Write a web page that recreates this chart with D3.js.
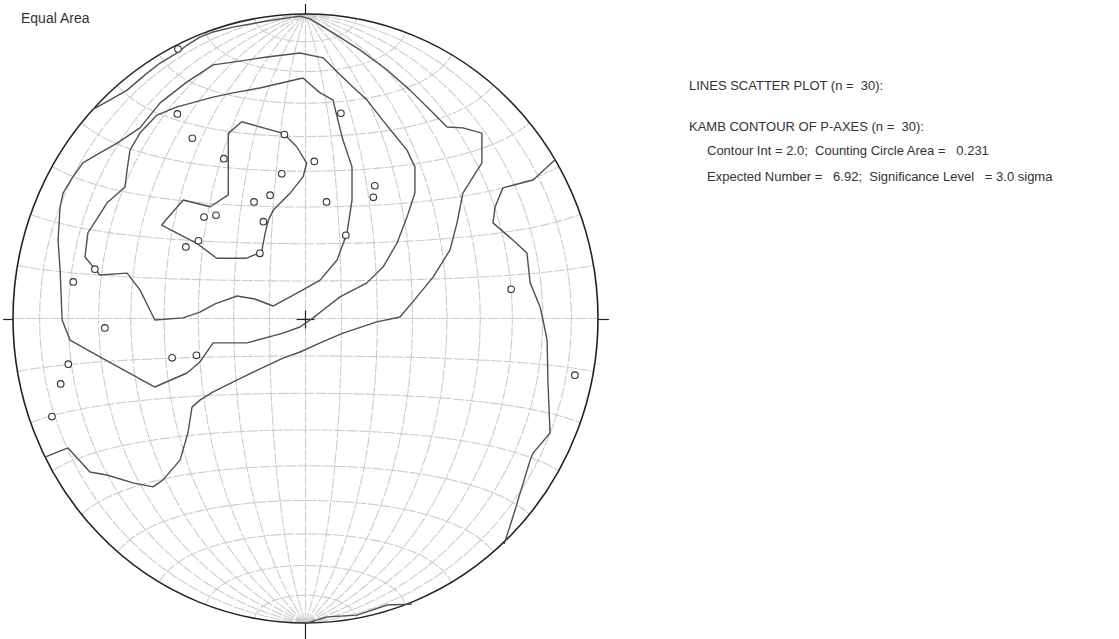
<!DOCTYPE html>
<html>
<head>
<meta charset="utf-8">
<script src="https://cdn.jsdelivr.net/npm/d3@7"></script>
<style>
  body { margin: 0; background: #fff; }
  svg { display: block; }
</style>
</head>
<body>
<svg id="chart"></svg>
<script>
// Positions on the equal-area net, unit disk: [x (east +), y (north +)]
const pAxes = [
  [-0.436, 0.885], [-0.438, 0.672], [0.121, 0.674], [-0.387, 0.592], [-0.072, 0.604],
  [-0.279, 0.525], [0.030, 0.516], [-0.081, 0.475], [0.237, 0.436], [0.232, 0.398],
  [-0.176, 0.383], [-0.121, 0.405], [0.072, 0.383], [-0.306, 0.339], [-0.347, 0.333],
  [-0.144, 0.318], [-0.366, 0.255], [-0.409, 0.235], [0.138, 0.273], [-0.156, 0.214],
  [-0.720, 0.162], [-0.794, 0.120], [0.703, 0.096], [-0.686, -0.031], [-0.456, -0.129],
  [-0.373, -0.121], [-0.811, -0.150], [-0.837, -0.215], [0.921, -0.186], [-0.867, -0.322]
]

// Kamb contour lines (2, 4, 6, 8 sigma)
const contour2West = [
  [-0.730, 0.685], [-0.668, 0.718], [-0.610, 0.750], [-0.549, 0.800], [-0.497, 0.839],
  [-0.439, 0.872], [-0.405, 0.898], [-0.361, 0.924], [-0.316, 0.941], [-0.248, 0.957],
  [-0.132, 0.977], [-0.019, 0.993], [0.015, 0.984], [0.094, 0.938], [0.186, 0.882],
  [0.279, 0.816], [0.357, 0.750], [0.415, 0.695], [0.484, 0.629], [0.538, 0.626],
  [0.603, 0.609], [0.603, 0.511], [0.573, 0.465], [0.538, 0.412], [0.518, 0.314],
  [0.494, 0.225], [0.436, 0.136], [0.381, 0.071], [0.323, 0.005], [0.244, -0.011],
  [0.128, -0.048], [0.050, -0.080], [-0.019, -0.110], [-0.077, -0.130], [-0.200, -0.186],
  [-0.316, -0.241], [-0.361, -0.268], [-0.388, -0.291], [-0.402, -0.376], [-0.429, -0.465],
  [-0.487, -0.530], [-0.521, -0.553], [-0.590, -0.540], [-0.679, -0.514], [-0.737, -0.504],
  [-0.812, -0.425], [-0.891, -0.455]
]
const contour2East = [
  [0.853, 0.521], [0.778, 0.455], [0.675, 0.429], [0.648, 0.366], [0.641, 0.314],
  [0.709, 0.258], [0.757, 0.215], [0.768, 0.117], [0.802, 0.038], [0.812, -0.005],
  [0.826, -0.071], [0.829, -0.212], [0.836, -0.376], [0.778, -0.442], [0.768, -0.465],
  [0.709, -0.652], [0.679, -0.741]
]
const contour2South = [
  [0.364, -0.938], [0.279, -0.941], [0.176, -0.974], [0.074, -0.980], [0.015, -0.997]
]
const contour4 = [
  [-0.316, 0.833], [-0.248, 0.842], [-0.132, 0.859], [-0.019, 0.872], [0.060, 0.856],
  [0.108, 0.810], [0.162, 0.760], [0.210, 0.718], [0.255, 0.662], [0.299, 0.609],
  [0.347, 0.553], [0.374, 0.498], [0.374, 0.412], [0.347, 0.333], [0.313, 0.248],
  [0.265, 0.169], [0.210, 0.117], [0.118, 0.071], [0.060, 0.028], [0.026, 0.002],
  [-0.019, -0.028], [-0.077, -0.048], [-0.200, -0.080], [-0.316, -0.080], [-0.361, -0.143],
  [-0.405, -0.179], [-0.515, -0.225], [-0.703, -0.126], [-0.805, -0.071], [-0.832, -0.005],
  [-0.839, 0.159], [-0.846, 0.258], [-0.839, 0.366], [-0.829, 0.412], [-0.795, 0.465],
  [-0.761, 0.511], [-0.703, 0.544], [-0.644, 0.576], [-0.566, 0.626], [-0.497, 0.708],
  [-0.405, 0.777], [-0.316, 0.833]
]
const contour6 = [
  [-0.009, 0.790], [0.050, 0.741], [0.094, 0.718], [0.108, 0.662], [0.128, 0.586],
  [0.159, 0.498], [0.159, 0.389], [0.142, 0.281], [0.108, 0.192], [0.050, 0.126],
  [-0.009, 0.094], [-0.053, 0.071], [-0.111, 0.041], [-0.173, 0.064], [-0.234, 0.074],
  [-0.309, 0.048], [-0.361, 0.021], [-0.419, 0.002], [-0.515, -0.005], [-0.566, 0.094],
  [-0.610, 0.149], [-0.703, 0.143], [-0.720, 0.163], [-0.754, 0.202], [-0.744, 0.281],
  [-0.709, 0.333], [-0.679, 0.379], [-0.617, 0.432], [-0.610, 0.488], [-0.600, 0.553],
  [-0.566, 0.609], [-0.508, 0.668], [-0.439, 0.695], [-0.316, 0.727], [-0.248, 0.741],
  [-0.156, 0.757], [-0.009, 0.790]
]
const contour8 = [
  [-0.218, 0.646], [-0.076, 0.608], [-0.030, 0.564], [0.004, 0.510], [-0.008, 0.466],
  [-0.053, 0.411], [-0.110, 0.356], [-0.127, 0.323], [-0.138, 0.280], [-0.150, 0.219],
  [-0.201, 0.198], [-0.304, 0.198], [-0.372, 0.247], [-0.492, 0.307], [-0.418, 0.389],
  [-0.326, 0.367], [-0.264, 0.406], [-0.264, 0.608], [-0.218, 0.646]
]

const infoLines = [
  'LINES SCATTER PLOT (n =  30):',
  '',
  'KAMB CONTOUR OF P-AXES (n =  30):',
  'Contour Int = 2.0;  Counting Circle Area =   0.231',
  'Expected Number =   6.92;  Significance Level   = 3.0 sigma'
]

const width = 1119
const height = 639
const cx = 305.5, cy = 318.5, rx = 292.5, ry = 304.5

const svg = d3.select('#chart')
  .attr('width', width)
  .attr('height', height)
  .style('font-family', '"Liberation Sans", Arial, sans-serif')

const xScale = d3.scaleLinear().domain([-1, 1]).range([cx - rx, cx + rx])
const yScale = d3.scaleLinear().domain([-1, 1]).range([cy + ry, cy - ry])

// Schmidt net, 10 degree graticule
const projection = d3.geoAzimuthalEqualArea()
  .scale(rx / Math.SQRT2)
  .translate([0, 0])
  .clipAngle(90)
  .precision(0.2)

const graticule = d3.geoGraticule()
  .extent([[-180, -89.999], [180, 89.999]])
  .step([10, 10])

const net = svg.append('g')
  .attr('transform', `translate(${cx},${cy}) scale(1,${ry / rx})`)

net.append('path')
  .datum(graticule())
  .attr('d', d3.geoPath(projection))
  .attr('fill', 'none')
  .attr('stroke', '#cccccc')
  .attr('stroke-width', 1.1)
  .attr('stroke-dasharray', '11 1.5')
  .attr('vector-effect', 'non-scaling-stroke')

// primitive circle
svg.append('ellipse')
  .attr('cx', cx).attr('cy', cy)
  .attr('rx', rx).attr('ry', ry)
  .attr('fill', 'none')
  .attr('stroke', '#222')
  .attr('stroke-width', 1.6)

// N / S / E / W ticks and centre cross
const ticks = [
  [cx, cy - ry - 10, cx, cy - ry],
  [cx, cy + ry, cx, cy + ry + 17],
  [cx - rx - 10, cy + 1, cx - rx, cy + 1],
  [cx + rx, cy + 1, cx + rx + 11, cy + 1],
  [cx - 9, cy + 1, cx + 9, cy + 1],
  [cx, cy - 8, cx, cy + 10]
]
svg.append('g').selectAll('line')
  .data(ticks)
  .join('line')
  .attr('x1', d => d[0]).attr('y1', d => d[1])
  .attr('x2', d => d[2]).attr('y2', d => d[3])
  .attr('stroke', '#222')
  .attr('stroke-width', 1.2)

// contours
const line = d3.line()
  .x(d => xScale(d[0]))
  .y(d => yScale(d[1]))

svg.append('g').selectAll('path')
  .data([contour2West, contour2East, contour2South, contour4, contour6, contour8])
  .join('path')
  .attr('d', line)
  .attr('fill', 'none')
  .attr('stroke', '#505050')
  .attr('stroke-width', 1.4)
  .attr('stroke-linejoin', 'round')

// scatter points
svg.append('g').selectAll('circle')
  .data(pAxes)
  .join('circle')
  .attr('cx', d => xScale(d[0]))
  .attr('cy', d => yScale(d[1]))
  .attr('r', 3.3)
  .attr('fill', '#fff')
  .attr('stroke', '#333')
  .attr('stroke-width', 1.1)

// labels
svg.append('text')
  .attr('x', 21)
  .attr('y', 23)
  .attr('font-size', 14)
  .attr('fill', '#333')
  .text('Equal Area')

const infoY = [90, 110, 131, 155, 181]
svg.append('g').selectAll('text')
  .data(infoLines)
  .join('text')
  .attr('x', (d, i) => i >= 3 ? 707 : 689)
  .attr('y', (d, i) => infoY[i])
  .attr('font-size', 13)
  .attr('fill', '#333')
  .attr('xml:space', 'preserve')
  .style('white-space', 'pre')
  .text(d => d)
</script>
</body>
</html>
